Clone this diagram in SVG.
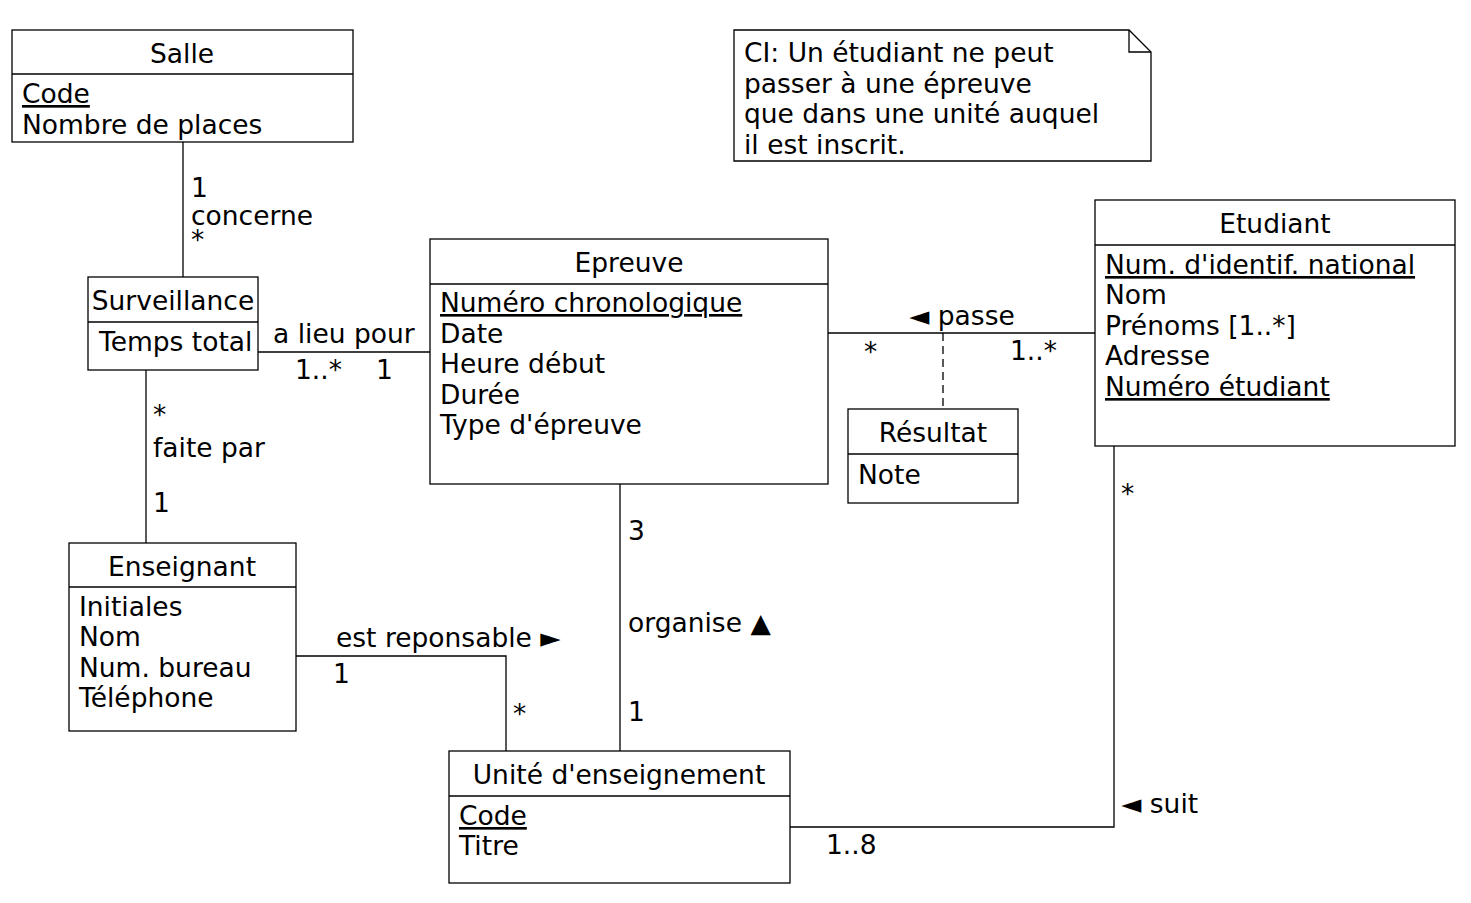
<svg xmlns="http://www.w3.org/2000/svg" width="1471" height="903" viewBox="0 0 1471 903">
<style>
text{font-family:"DejaVu Sans",sans-serif;font-size:26.5px;fill:#000}
.t{text-anchor:middle}
.u{text-decoration:underline}
.b,.n{fill:#fff;stroke:#000;stroke-width:1.3}
line,path.c{stroke:#000;stroke-width:1.3;fill:none}
.d{stroke-dasharray:8,5}
</style>
<rect width="1471" height="903" fill="#fff"/>
<g id="connectors">
<line x1="183" y1="142" x2="183" y2="277"/>
<line x1="258" y1="352" x2="430" y2="352"/>
<line x1="828" y1="333" x2="1095" y2="333"/>
<line class="d" x1="943" y1="333" x2="943" y2="409"/>
<line x1="146" y1="370" x2="146" y2="543"/>
<path class="c" d="M296,656 H506 V751"/>
<line x1="620" y1="484" x2="620" y2="751"/>
<path class="c" d="M1114,446 V827 H790"/>
<text x="191" y="197">1</text>
<text x="191" y="225">concerne</text>
<text x="191" y="249">*</text>
<text x="273" y="343">a lieu pour</text>
<text x="295" y="379">1..*</text>
<text x="376" y="379">1</text>
<text x="909" y="325">◄ passe</text>
<text x="864" y="361">*</text>
<text x="1010" y="360">1..*</text>
<text x="153" y="424">*</text>
<text x="153" y="457">faite par</text>
<text x="153" y="512">1</text>
<text x="336" y="647">est reponsable ►</text>
<text x="333" y="683">1</text>
<text x="513" y="723">*</text>
<text x="628" y="540">3</text>
<text x="628" y="632">organise ▲</text>
<text x="628" y="721">1</text>
<text x="1121" y="503">*</text>
<text x="1121" y="813">◄ suit</text>
<text x="826" y="854">1..8</text>
</g>
<g id="note">
<path class="n" d="M734,30 H1129 L1151,52 V161 H734 Z"/>
<path class="c" d="M1129,30 V52 H1151"/>
<text x="744" y="62">CI: Un étudiant ne peut</text>
<text x="744" y="93">passer à une épreuve</text>
<text x="744" y="123">que dans une unité auquel</text>
<text x="744" y="154">il est inscrit.</text>
</g>
<g id="salle">
<rect class="b" x="12" y="30" width="341" height="112"/>
<line x1="12" y1="74" x2="353" y2="74"/>
<text class="t" x="182" y="63">Salle</text>
<text class="u" x="22" y="103">Code</text>
<text x="22" y="134">Nombre de places</text>
</g>
<g id="surveillance">
<rect class="b" x="88" y="277" width="170" height="93"/>
<line x1="88" y1="322" x2="258" y2="322"/>
<text class="t" x="173" y="310">Surveillance</text>
<text x="99" y="351">Temps total</text>
</g>
<g id="epreuve">
<rect class="b" x="430" y="239" width="398" height="245"/>
<line x1="430" y1="284" x2="828" y2="284"/>
<text class="t" x="629" y="272">Epreuve</text>
<text class="u" x="440" y="312">Numéro chronologique</text>
<text x="440" y="343">Date</text>
<text x="440" y="373">Heure début</text>
<text x="440" y="404">Durée</text>
<text x="440" y="434">Type d'épreuve</text>
</g>
<g id="resultat">
<rect class="b" x="848" y="409" width="170" height="94"/>
<line x1="848" y1="454" x2="1018" y2="454"/>
<text class="t" x="933" y="442">Résultat</text>
<text x="858" y="484">Note</text>
</g>
<g id="etudiant">
<rect class="b" x="1095" y="200" width="360" height="246"/>
<line x1="1095" y1="245" x2="1455" y2="245"/>
<text class="t" x="1275" y="233">Etudiant</text>
<text class="u" x="1105" y="274">Num. d'identif. national</text>
<text x="1105" y="304">Nom</text>
<text x="1105" y="335">Prénoms [1..*]</text>
<text x="1105" y="365">Adresse</text>
<text class="u" x="1105" y="396">Numéro étudiant</text>
</g>
<g id="enseignant">
<rect class="b" x="69" y="543" width="227" height="188"/>
<line x1="69" y1="587" x2="296" y2="587"/>
<text class="t" x="182" y="576">Enseignant</text>
<text x="79" y="616">Initiales</text>
<text x="79" y="646">Nom</text>
<text x="79" y="677">Num. bureau</text>
<text x="79" y="707">Téléphone</text>
</g>
<g id="ue">
<rect class="b" x="449" y="751" width="341" height="132"/>
<line x1="449" y1="796" x2="790" y2="796"/>
<text class="t" x="619" y="784">Unité d'enseignement</text>
<text class="u" x="459" y="825">Code</text>
<text x="459" y="855">Titre</text>
</g>
</svg>
